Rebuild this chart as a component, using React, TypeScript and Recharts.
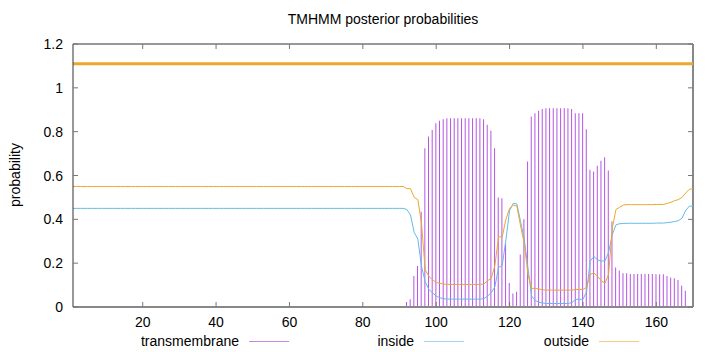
import {
  ComposedChart,
  Bar,
  Line,
  XAxis,
  YAxis,
  ReferenceLine,
} from "recharts";

// TMHMM per-residue posterior probabilities, residues 1..170
const transmembrane = [
  0, 0, 0, 0, 0, 0, 0, 0, 0, 0,
  0, 0, 0, 0, 0, 0, 0, 0, 0, 0,
  0, 0, 0, 0, 0, 0, 0, 0, 0, 0,
  0, 0, 0, 0, 0, 0, 0, 0, 0, 0,
  0, 0, 0, 0, 0, 0, 0, 0, 0, 0,
  0, 0, 0, 0, 0, 0, 0, 0, 0, 0,
  0, 0, 0, 0, 0, 0, 0, 0, 0, 0,
  0, 0, 0, 0, 0, 0, 0, 0, 0, 0,
  0, 0, 0, 0, 0, 0, 0, 0, 0, 0,
  0.005, 0.023, 0.035, 0.142, 0.187, 0.435, 0.724, 0.778, 0.808, 0.838,
  0.85, 0.857, 0.861, 0.861, 0.861, 0.861, 0.861, 0.861, 0.861, 0.861,
  0.861, 0.861, 0.857, 0.831, 0.804, 0.724, 0.5, 0.496, 0.29, 0.11,
  0.062, 0.07, 0.24, 0.4, 0.664, 0.869, 0.884, 0.895, 0.903, 0.907,
  0.907, 0.907, 0.907, 0.907, 0.907, 0.907, 0.903, 0.884, 0.884, 0.884,
  0.811, 0.626, 0.618, 0.645, 0.667, 0.683, 0.623, 0.39, 0.18, 0.166,
  0.154, 0.154, 0.151, 0.151, 0.151, 0.151, 0.151, 0.151, 0.151, 0.149,
  0.149, 0.149, 0.142, 0.135, 0.131, 0.123, 0.097, 0.074, 0, 0,
];

const inside = [
  0.45, 0.45, 0.45, 0.45, 0.45, 0.45, 0.45, 0.45, 0.45, 0.45,
  0.45, 0.45, 0.45, 0.45, 0.45, 0.45, 0.45, 0.45, 0.45, 0.45,
  0.45, 0.45, 0.45, 0.45, 0.45, 0.45, 0.45, 0.45, 0.45, 0.45,
  0.45, 0.45, 0.45, 0.45, 0.45, 0.45, 0.45, 0.45, 0.45, 0.45,
  0.45, 0.45, 0.45, 0.45, 0.45, 0.45, 0.45, 0.45, 0.45, 0.45,
  0.45, 0.45, 0.45, 0.45, 0.45, 0.45, 0.45, 0.45, 0.45, 0.45,
  0.45, 0.45, 0.45, 0.45, 0.45, 0.45, 0.45, 0.45, 0.45, 0.45,
  0.45, 0.45, 0.45, 0.45, 0.45, 0.45, 0.45, 0.45, 0.45, 0.45,
  0.45, 0.45, 0.45, 0.45, 0.45, 0.45, 0.45, 0.45, 0.45, 0.45,
  0.45, 0.445, 0.42, 0.34, 0.31, 0.185, 0.116, 0.08, 0.065, 0.05,
  0.042, 0.038, 0.036, 0.036, 0.036, 0.036, 0.036, 0.036, 0.036, 0.036,
  0.036, 0.036, 0.038, 0.05, 0.065, 0.093, 0.18, 0.19, 0.306, 0.44,
  0.473, 0.47, 0.39, 0.31, 0.18, 0.05, 0.03, 0.022, 0.018, 0.016,
  0.016, 0.016, 0.016, 0.016, 0.016, 0.016, 0.02, 0.035, 0.035, 0.035,
  0.07, 0.21, 0.23, 0.215, 0.21, 0.21, 0.25, 0.33, 0.375, 0.38,
  0.381, 0.382, 0.382, 0.382, 0.382, 0.382, 0.382, 0.382, 0.382, 0.383,
  0.383, 0.383, 0.385, 0.387, 0.39, 0.394, 0.405, 0.44, 0.46, 0.46,
];

const outside = [
  0.55, 0.55, 0.55, 0.55, 0.55, 0.55, 0.55, 0.55, 0.55, 0.55,
  0.55, 0.55, 0.55, 0.55, 0.55, 0.55, 0.55, 0.55, 0.55, 0.55,
  0.55, 0.55, 0.55, 0.55, 0.55, 0.55, 0.55, 0.55, 0.55, 0.55,
  0.55, 0.55, 0.55, 0.55, 0.55, 0.55, 0.55, 0.55, 0.55, 0.55,
  0.55, 0.55, 0.55, 0.55, 0.55, 0.55, 0.55, 0.55, 0.55, 0.55,
  0.55, 0.55, 0.55, 0.55, 0.55, 0.55, 0.55, 0.55, 0.55, 0.55,
  0.55, 0.55, 0.55, 0.55, 0.55, 0.55, 0.55, 0.55, 0.55, 0.55,
  0.55, 0.55, 0.55, 0.55, 0.55, 0.55, 0.55, 0.55, 0.55, 0.55,
  0.55, 0.55, 0.55, 0.55, 0.55, 0.55, 0.55, 0.55, 0.55, 0.55,
  0.55, 0.54, 0.54, 0.5, 0.49, 0.38, 0.17, 0.14, 0.125, 0.112,
  0.108, 0.105, 0.103, 0.103, 0.103, 0.103, 0.103, 0.103, 0.103, 0.103,
  0.103, 0.103, 0.105, 0.12, 0.13, 0.19, 0.32, 0.32, 0.4, 0.45,
  0.465, 0.46, 0.37, 0.29, 0.15, 0.085, 0.085, 0.082, 0.079, 0.077,
  0.077, 0.077, 0.077, 0.077, 0.077, 0.077, 0.077, 0.08, 0.08, 0.08,
  0.09, 0.15, 0.155, 0.14, 0.12, 0.108, 0.15, 0.36, 0.445, 0.455,
  0.465, 0.467, 0.467, 0.467, 0.467, 0.467, 0.467, 0.467, 0.467, 0.468,
  0.468, 0.468, 0.473, 0.478, 0.485, 0.49, 0.5, 0.52, 0.537, 0.54,
];

// predicted topology drawn as the bar above the plot
const topology = [{ start: 1, end: 170, region: "outside", level: 1.11 }];

const xTicks = [20, 40, 60, 80, 100, 120, 140, 160];
const yTicks = [0, 0.2, 0.4, 0.6, 0.8, 1, 1.2];

const COLORS: any = {
  transmembrane: "#b455e2",
  inside: "#62bbec",
  outside: "#eba82a",
};

const LEGEND_COLORS: any = {
  transmembrane: "#c68ae6",
  inside: "#a6d4ea",
  outside: "#f0cc8a",
};

const legendItems = ["transmembrane", "inside", "outside"];

const data = transmembrane.map((tm, i) => ({
  residue: i + 1,
  transmembrane: tm,
  inside: inside[i],
  outside: outside[i],
}));

const FONT = "'Liberation Sans', Arial, sans-serif";
const PLOT_W = 620;
const PLOT_H = 263;

function XTick({ x, y, payload }: any) {
  return (
    <g>
      <line x1={x} x2={x} y1={y} y2={y - 5} stroke="#777" />
      <line x1={x} x2={x} y1={y - PLOT_H} y2={y - PLOT_H + 5} stroke="#777" />
      <text x={x} y={y + 20} textAnchor="middle" fontSize={14} fill="#000" fontFamily={FONT}>
        {payload.value}
      </text>
    </g>
  );
}

function YTick({ x, y, payload }: any) {
  return (
    <g>
      <line x1={x} x2={x + 5} y1={y} y2={y} stroke="#777" />
      <line x1={x + PLOT_W} x2={x + PLOT_W - 5} y1={y} y2={y} stroke="#777" />
      <text x={x - 10} y={y + 5} textAnchor="end" fontSize={14} fill="#000" fontFamily={FONT}>
        {String(payload.value)}
      </text>
    </g>
  );
}

export default function App() {
  return (
    <div style={{ position: "relative", width: 720, height: 352, fontFamily: FONT }}>
      <style>{"body{margin:0}"}</style>
      <div
        style={{
          position: "absolute",
          top: 11,
          left: 73,
          width: PLOT_W,
          textAlign: "center",
          fontSize: 14,
        }}
      >
        TMHMM posterior probabilities
      </div>
      <div
        style={{
          position: "absolute",
          left: 15,
          top: 175,
          fontSize: 14,
          transform: "translate(-50%, -50%) rotate(-90deg)",
          whiteSpace: "nowrap",
        }}
      >
        probability
      </div>
      <ComposedChart
        width={720}
        height={352}
        data={data}
        margin={{ top: 44, right: 27, bottom: 0, left: 0 }}
      >
        <XAxis
          dataKey="residue"
          type="number"
          domain={[1, 170]}
          ticks={xTicks}
          allowDataOverflow
          height={45}
          tickSize={0}
          tickMargin={0}
          tickLine={false}
          tick={<XTick />}
          axisLine={{ stroke: "#888", strokeWidth: 2 }}
          interval={0}
        />
        <YAxis
          type="number"
          domain={[0, 1.2]}
          ticks={yTicks}
          allowDataOverflow
          width={73}
          tickSize={0}
          tickMargin={0}
          tickLine={false}
          tick={<YTick />}
          axisLine={{ stroke: "#333" }}
          interval={0}
        />
        <ReferenceLine y={1.2} stroke="#333" />
        <ReferenceLine x={170} stroke="#888" strokeWidth={2} />
        {topology.map((t) => (
          <ReferenceLine
            key={t.region}
            segment={[
              { x: t.start, y: t.level },
              { x: t.end, y: t.level },
            ]}
            stroke={COLORS[t.region]}
            strokeWidth={3}
          />
        ))}
        <Bar
          dataKey="transmembrane"
          fill={COLORS.transmembrane}
          barSize={1}
          isAnimationActive={false}
        />
        <Line
          type="linear"
          dataKey="inside"
          stroke={COLORS.inside}
          strokeWidth={1}
          dot={false}
          activeDot={false}
          isAnimationActive={false}
        />
        <Line
          type="linear"
          dataKey="outside"
          stroke={COLORS.outside}
          strokeWidth={1}
          dot={false}
          activeDot={false}
          isAnimationActive={false}
        />
      </ComposedChart>
      {legendItems.map((name, i) => (
        <div
          key={name}
          style={{
            position: "absolute",
            top: 333,
            left: 249 + i * 175 - 200,
            width: 240,
            display: "flex",
            alignItems: "center",
            justifyContent: "flex-end",
            fontSize: 14,
          }}
        >
          <span style={{ marginRight: 10 }}>{name}</span>
          <span
            style={{
              display: "inline-block",
              width: 40,
              height: 1,
              background: LEGEND_COLORS[name],
            }}
          />
        </div>
      ))}
    </div>
  );
}
